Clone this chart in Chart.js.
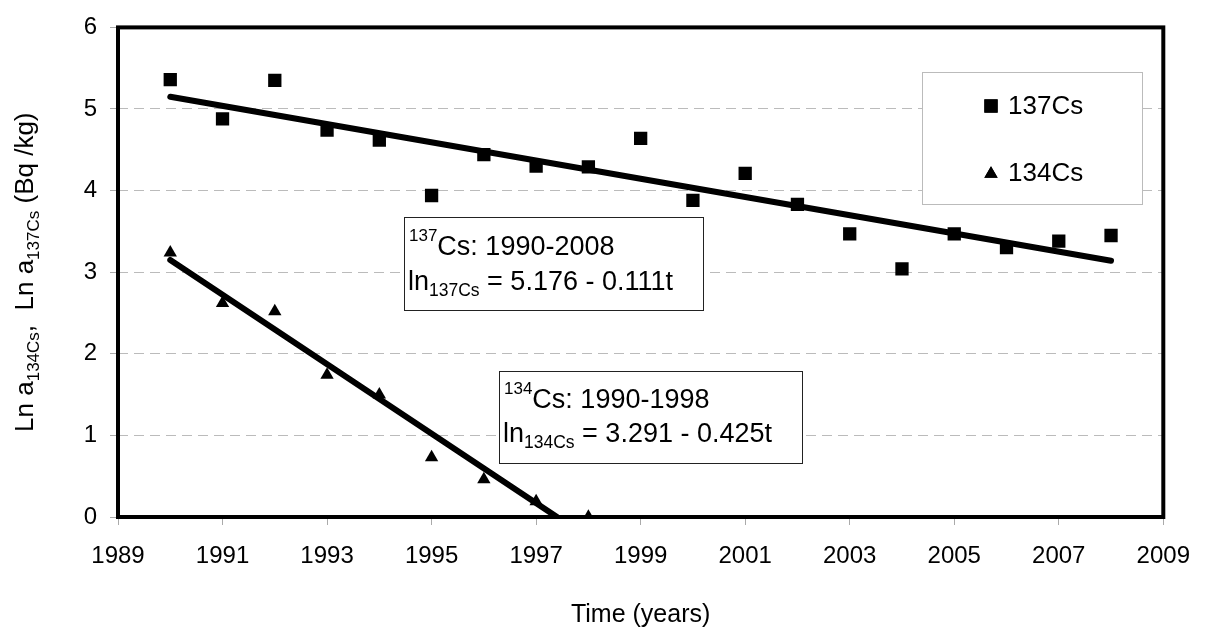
<!DOCTYPE html>
<html>
<head>
<meta charset="utf-8">
<script src="https://cdn.jsdelivr.net/npm/chart.js@4.4.1/dist/chart.umd.min.js"></script>
<style>
  body { margin: 0; background: #fff; }
  #wrap { width: 1207px; height: 632px; }
</style>
</head>
<body>
<div id="wrap"><canvas id="decay" width="1207" height="632"></canvas></div>
<script>
const years137 = [1990, 1991, 1992, 1993, 1994, 1995, 1996, 1997, 1998, 1999,
                  2000, 2001, 2002, 2003, 2004, 2005, 2006, 2007, 2008];
const cs137 = [5.36, 4.88, 5.35, 4.74, 4.62, 3.94, 4.44, 4.30, 4.29, 4.64,
               3.88, 4.21, 3.83, 3.47, 3.04, 3.47, 3.30, 3.38, 3.45];
const years134 = [1990, 1991, 1992, 1993, 1994, 1995, 1996, 1997, 1998];
const cs134 = [3.24, 2.62, 2.52, 1.74, 1.50, 0.73, 0.46, 0.19, 0.00];

// fitted lines (end points as drawn)
const trendYears137 = [1990, 2008];
const trend137 = [5.15, 3.14];
const trendYears134 = [1990, 1997.4];
const trend134 = [3.15, 0];

const xTicks = [1989, 1991, 1993, 1995, 1997, 1999, 2001, 2003, 2005, 2007, 2009];
const yTicks = [0, 1, 2, 3, 4, 5, 6];

const FONT = "'Liberation Sans', Arial, sans-serif";

function pts(xs, ys) {
    return xs.map((x, i) => ({ x: x, y: ys[i] }));
}

// draws a run of text pieces, some raised or lowered
function drawRich(ctx, x, y, parts, measureOnly) {
    let cx = x;
    parts.forEach(p => {
        ctx.font = p.size + 'px ' + FONT;
        if (!measureOnly) ctx.fillText(p.text, cx, y + (p.dy || 0));
        cx += ctx.measureText(p.text).width;
    });
    return cx - x;
}

const noteBoxes = [
    {
        box: [404, 217, 299, 93],
        lines: [
            { x: 409, y: 255, parts: [{ text: '137', size: 17, dy: -14 }, { text: 'Cs: 1990-2008', size: 27 }] },
            { x: 408, y: 290, parts: [{ text: 'ln', size: 27 }, { text: '137Cs', size: 17.5, dy: 6 }, { text: ' = 5.176 - 0.111t', size: 27 }] }
        ]
    },
    {
        box: [499, 371, 303, 92],
        lines: [
            { x: 504, y: 408, parts: [{ text: '134', size: 17, dy: -14 }, { text: 'Cs: 1990-1998', size: 27 }] },
            { x: 503, y: 442, parts: [{ text: 'ln', size: 27 }, { text: '134Cs', size: 17.5, dy: 6 }, { text: ' = 3.291 - 0.425t', size: 27 }] }
        ]
    }
];

const yTitle = [
    { text: 'Ln a', size: 26 }, { text: '134Cs', size: 17, dy: 6 }, { text: ',  Ln a', size: 26 },
    { text: '137Cs', size: 17, dy: 6 }, { text: ' (Bq /kg)', size: 26 }
];

const framePlugin = {
    id: 'frame',
    beforeDatasetsDraw(chart) {
        const { ctx, chartArea: a } = chart;
        ctx.save();
        ctx.strokeStyle = '#000';
        ctx.lineWidth = 4;
        ctx.strokeRect(a.left, a.top, a.right - a.left, a.bottom - a.top);
        ctx.restore();
    },
    afterDatasetsDraw(chart) {
        const ctx = chart.ctx;
        ctx.save();
        ctx.fillStyle = '#000';
        ctx.textBaseline = 'alphabetic';

        // equation boxes
        noteBoxes.forEach(n => {
            const [bx, by, bw, bh] = n.box;
            ctx.fillStyle = '#fff';
            ctx.fillRect(bx, by, bw, bh);
            ctx.strokeStyle = '#222';
            ctx.lineWidth = 1;
            ctx.strokeRect(bx + 0.5, by + 0.5, bw, bh);
            ctx.fillStyle = '#000';
            n.lines.forEach(l => drawRich(ctx, l.x, l.y, l.parts));
        });

        // legend box
        ctx.fillStyle = '#fff';
        ctx.fillRect(922, 72, 220, 132);
        ctx.strokeStyle = '#bbb';
        ctx.strokeRect(922.5, 72.5, 220, 132);
        ctx.fillStyle = '#000';
        const legendRows = [
            { label: '137Cs', style: 'rect', r: 9.4, y: 106, base: 114 },
            { label: '134Cs', style: 'triangle', r: 7.7, y: 174, base: 181 }
        ];
        legendRows.forEach(row => {
            Chart.helpers.drawPoint(ctx, { pointStyle: row.style, radius: row.r, borderWidth: 0 }, 991, row.y);
            ctx.fill();
            ctx.font = '26px ' + FONT;
            ctx.fillText(row.label, 1008, row.base);
        });

        // rotated y-axis title with subscripts
        const w = drawRich(ctx, 0, 0, yTitle, true);
        const midY = (chart.chartArea.top + chart.chartArea.bottom) / 2;
        ctx.translate(33, midY);
        ctx.rotate(-Math.PI / 2);
        drawRich(ctx, -w / 2, 0, yTitle);
        ctx.restore();
    }
};

const ctx = document.getElementById('decay').getContext('2d');

new Chart(ctx, {
    type: 'scatter',
    data: {
        datasets: [
            {
                label: '137Cs',
                data: pts(years137, cs137),
                pointStyle: 'rect',
                pointRadius: 9.4,
                pointBorderWidth: 0,
                backgroundColor: '#000',
                borderColor: '#000'
            },
            {
                label: '134Cs',
                data: pts(years134, cs134),
                pointStyle: 'triangle',
                pointRadius: 7.7,
                pointBorderWidth: 0,
                backgroundColor: '#000',
                borderColor: '#000'
            },
            {
                label: 'fit 137Cs',
                data: pts(trendYears137, trend137),
                showLine: true,
                borderColor: '#000',
                borderWidth: 6,
                borderCapStyle: 'round',
                pointRadius: 0
            },
            {
                label: 'fit 134Cs',
                data: pts(trendYears134, trend134),
                showLine: true,
                borderColor: '#000',
                borderWidth: 6,
                borderCapStyle: 'round',
                pointRadius: 0
            }
        ]
    },
    options: {
        responsive: false,
        animation: false,
        layout: { padding: { top: 23, right: 34, left: 0, bottom: 0 } },
        plugins: {
            legend: { display: false },
            tooltip: { enabled: false }
        },
        scales: {
            x: {
                type: 'linear',
                min: 1989,
                max: 2009,
                afterFit: s => { s.height = 115; },
                afterBuildTicks: s => { s.ticks = xTicks.map(v => ({ value: v })); },
                border: { display: false },
                grid: {
                    drawOnChartArea: false,
                    tickLength: 8,
                    tickColor: '#aaa'
                },
                ticks: {
                    padding: 17,
                    color: '#000',
                    font: { family: FONT, size: 24 },
                    maxRotation: 0,
                    callback: v => String(v)
                },
                title: {
                    display: true,
                    text: 'Time (years)',
                    color: '#000',
                    font: { family: FONT, size: 25 },
                    padding: { top: 0, bottom: 2 }
                }
            },
            y: {
                min: 0,
                max: 6,
                afterFit: s => { s.width = 118; },
                afterBuildTicks: s => { s.ticks = yTicks.map(v => ({ value: v })); },
                border: { display: false, dash: [10, 6] },
                grid: {
                    color: '#bbb',
                    lineWidth: 1,
                    tickLength: 8,
                    tickColor: '#aaa',
                    tickBorderDash: []
                },
                ticks: {
                    padding: 13,
                    color: '#000',
                    font: { family: FONT, size: 24 }
                }
            }
        }
    },
    plugins: [framePlugin]
});
</script>
</body>
</html>
